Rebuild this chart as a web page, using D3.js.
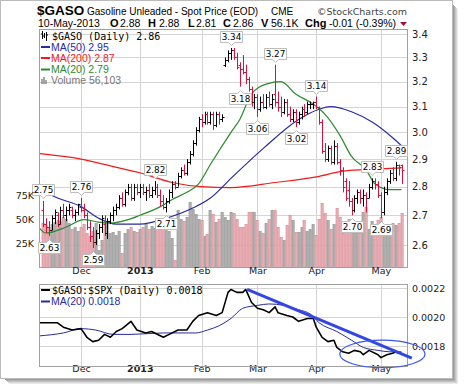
<!DOCTYPE html>
<html>
<head>
<meta charset="utf-8">
<script src="https://cdn.jsdelivr.net/npm/d3@7"></script>
<style>
  body { margin: 0; background: #fff; }
  svg { display: block; }
</style>
</head>
<body>
<svg width="464" height="387"></svg>
<script>
// daily OHLC, Nov 13 2012 .. May 10 2013 (index 0..122)
const opens = [2.72,2.67,2.66,2.65,2.69,2.70,2.67,2.72,2.70,2.72,2.72,2.70,2.71,
  2.73,2.72,2.70,2.66,2.63,2.61,2.64,2.66,2.67,2.64,2.68,2.70,2.72,2.73,2.76,2.74,2.78,2.80,2.76,2.80,
  2.78,2.80,2.78,2.79,2.77,2.79,2.80,2.77,2.75,2.73,2.75,2.78,2.81,2.80,2.84,2.86,2.85,2.89,2.92,2.96,3.01,
  3.05,3.04,3.07,3.04,3.07,3.03,3.07,3.05,3.27,3.29,3.32,3.33,3.30,3.27,3.25,3.24,3.21,3.17,3.12,
  3.14,3.09,3.12,3.10,3.14,3.11,3.15,3.12,3.10,3.08,3.12,3.07,3.05,3.08,3.04,3.07,3.09,3.08,3.11,3.11,
  3.12,3.10,3.04,2.93,2.90,2.94,2.89,2.95,2.89,2.86,2.82,2.79,2.75,2.72,2.76,2.78,2.76,2.77,2.76,2.80,2.82,2.81,
  2.77,2.71,2.78,2.82,2.85,2.83,2.88,2.88]
const highs = [2.75,2.69,2.68,2.70,2.72,2.71,2.73,2.74,2.73,2.74,2.73,2.72,2.74,
  2.76,2.74,2.71,2.68,2.66,2.65,2.67,2.70,2.70,2.69,2.71,2.73,2.74,2.77,2.78,2.79,2.81,2.81,2.81,2.81,
  2.81,2.81,2.80,2.81,2.80,2.82,2.81,2.79,2.77,2.76,2.79,2.82,2.82,2.85,2.87,2.88,2.90,2.93,2.97,3.02,3.06,
  3.07,3.08,3.08,3.08,3.08,3.08,3.08,3.07,3.30,3.33,3.34,3.34,3.32,3.28,3.31,3.27,3.22,3.18,3.15,
  3.15,3.14,3.15,3.15,3.16,3.15,3.27,3.16,3.14,3.13,3.13,3.10,3.09,3.09,3.08,3.10,3.11,3.12,3.12,3.12,
  3.14,3.10,3.05,2.96,2.95,2.95,2.97,2.96,2.90,2.87,2.83,2.82,2.76,2.77,2.79,2.79,2.79,2.78,2.81,2.83,2.83,2.82,
  2.78,2.80,2.83,2.86,2.87,2.89,2.88,2.88]
const lows = [2.66,2.64,2.63,2.65,2.67,2.66,2.67,2.69,2.68,2.70,2.69,2.68,2.70,
  2.71,2.69,2.65,2.61,2.59,2.60,2.62,2.64,2.63,2.62,2.67,2.68,2.70,2.72,2.73,2.73,2.77,2.75,2.75,2.77,
  2.76,2.77,2.75,2.76,2.76,2.77,2.76,2.73,2.72,2.71,2.74,2.76,2.79,2.80,2.83,2.84,2.84,2.88,2.91,2.95,3.00,
  3.02,3.03,3.03,3.03,3.01,3.02,3.03,3.04,3.26,3.28,3.29,3.29,3.25,3.18,3.23,3.19,3.16,3.10,3.09,
  3.06,3.08,3.09,3.09,3.10,3.09,3.10,3.08,3.06,3.07,3.06,3.04,3.04,3.02,3.03,3.05,3.06,3.07,3.09,3.09,
  3.09,3.03,2.92,2.89,2.89,2.88,2.88,2.88,2.84,2.78,2.75,2.73,2.70,2.71,2.74,2.74,2.73,2.71,2.76,2.79,2.79,2.76,
  2.69,2.70,2.77,2.81,2.82,2.82,2.84,2.81]
const closes = [2.67,2.66,2.65,2.69,2.71,2.67,2.72,2.70,2.72,2.73,2.70,2.71,2.74,
  2.72,2.70,2.66,2.63,2.61,2.64,2.66,2.69,2.64,2.68,2.70,2.72,2.73,2.76,2.74,2.78,2.80,2.76,2.80,2.78,
  2.80,2.78,2.79,2.77,2.79,2.80,2.77,2.75,2.73,2.75,2.78,2.81,2.80,2.84,2.86,2.85,2.89,2.92,2.96,3.01,3.05,
  3.04,3.07,3.04,3.07,3.03,3.07,3.05,3.06,3.29,3.32,3.33,3.30,3.26,3.25,3.24,3.21,3.17,3.12,3.14,
  3.09,3.12,3.10,3.14,3.11,3.13,3.12,3.10,3.08,3.12,3.07,3.05,3.08,3.04,3.07,3.09,3.08,3.11,3.11,3.12,
  3.10,3.04,2.93,2.90,2.94,2.89,2.95,2.89,2.86,2.80,2.76,2.75,2.72,2.76,2.78,2.76,2.77,2.76,2.80,2.82,2.81,2.77,
  2.71,2.78,2.82,2.85,2.83,2.88,2.87,2.86]
// volume in thousands
const volumes = [46,44,42,45,47,49,48,52,50,46,40,42,38,
  42,45,35,32,38,46,18,28,47,45,35,36,33,37,15,35,40,42,38,36,
  40,42,45,40,43,41,40,42,40,42,38,30,7,59,50,48,52,68,60,55,50,
  49,32,34,59,55,47,50,57,52,49,57,56,50,42,42,45,57,57,57,
  49,38,35,46,50,59,59,42,31,28,44,54,49,36,36,42,49,38,40,45,
  33,50,67,56,49,40,45,61,52,35,40,50,36,42,40,35,57,62,40,48,42,49,
  52,40,38,42,46,44,46,56]

// moving averages: [day index, value]
const ma50 = [[-1,2.79],[5,2.76],[13,2.73],[19,2.69],[25,2.67],[33,2.67],[42,2.69],[51,2.725],[57,2.76],
  [64,2.83],[75,2.94],[87,3.05],[94,3.09],[98,3.10],[105,3.08],[112,3.04],[119,2.98],[122,2.95]]
const ma200 = [[-1,2.92],[13,2.90],[23,2.875],[33,2.85],[44,2.815],[54,2.80],[64,2.797],[79,2.815],
  [93,2.835],[102,2.856],[110,2.862],[122,2.868]]
const ma20 = [[-1,2.655],[1,2.64],[8,2.66],[14,2.685],[19,2.677],[23,2.673],[29,2.685],[33,2.70],[40,2.73],
  [44,2.755],[49,2.78],[53,2.81],[57,2.88],[64,3.00],[67,3.05],[71,3.15],[76,3.19],[81,3.20],[86,3.15],
  [92,3.11],[96,3.07],[101,2.99],[105,2.91],[110,2.86],[113,2.81],[118,2.79],[122,2.79]]

// $GASO:$SPX ratio and its MA(20)
const ratio = [[-1,0.00196],[2,0.00196],[5,0.00196],[7,0.00193],[10,0.00191],[13,0.00192],[15,0.00186],
  [17,0.00183],[19,0.00184],[21,0.00188],[23,0.00186],[25,0.00190],[27,0.00192],[30,0.00197],[32,0.00191],
  [35,0.00189],[37,0.00190],[41,0.00186],[43,0.00188],[46,0.00191],[49,0.00191],[51,0.00197],[53,0.00201],
  [56,0.00203],[59,0.00201],[61,0.00203],[63,0.00217],[64,0.00219],[66,0.00217],[68,0.00217],[69,0.00219],
  [71,0.00210],[73,0.00206],[75,0.00205],[77,0.00203],[79,0.00207],[80,0.00203],[83,0.00201],[85,0.00200],
  [87,0.00197],[90,0.00199],[92,0.00199],[93,0.00193],[95,0.00186],[97,0.00183],[99,0.00184],[100,0.00179],
  [102,0.00176],[104,0.00175],[106,0.00177],[108,0.00176],[109,0.00174],[111,0.00177],[114,0.00174],
  [115,0.00172],[117,0.00174],[119,0.00175],[120,0.00176],[121,0.00175],[122,0.00175]]
const ratioMa = [[-1,0.00187],[7,0.00189],[13,0.00192],[18,0.00191],[24,0.00188],[30,0.00188],[41,0.00189],
  [52,0.00189],[56,0.00191],[60,0.00194],[64,0.00199],[68,0.00206],[73,0.00208],[77,0.00209],[82,0.00208],
  [87,0.00205],[91,0.00202],[94,0.00196],[100,0.00190],[105,0.00184],[109,0.00179],[114,0.00177],
  [118,0.00176],[122,0.00176]]
// hand-drawn annotations on the ratio panel
const trendLine = [[69.5,0.00219],[125.5,0.001717]]
const ellipseBox = [[101,0.00184],[130,0.00165]]

const priceTicks = [2.6,2.7,2.8,2.9,3.0,3.1,3.2,3.3,3.4]
const volTicks = [25,50,75]
const ratioTicks = [0.0018,0.0020,0.0022]
const monthLabels = ["Dec","2013","Feb","Mar","Apr","May"]
const monthIdx = [13,33,54,73,93,115]
const highMarks = [0,13,38,64,79,93,112,120]
const lowMarks = [2,17,42,67,73,86,105,115]

const SANS = '"Liberation Sans", Arial, sans-serif'
const DJV = '"DejaVu Sans", sans-serif'
const MONO = '"DejaVu Sans Mono", monospace'

const svg = d3.select('svg').style('font-family', DJV)
const L = 39, R = 407, T = 29, B = 267
const T2 = 284, B2 = 366

const x = d3.scaleLinear().domain([0, 122]).range([42.8, 401.5])
const y = d3.scaleLog().domain([2.6, 3.4]).range([245, 34])
const yv = d3.scaleLinear().domain([0, 75]).range([B, 195])
const yr = d3.scaleLinear().domain([0.0018, 0.0022]).range([346, 288])
const px = i => Math.round(x(i)) + 0.5

const RED = '#d8103c'
const isDown = i => i === 0 ? closes[0] < opens[0] : closes[i] < closes[i - 1]

// outer frame + shadow
svg.append('rect').attr('x', 0.5).attr('y', 0.5).attr('width', 452).attr('height', 378)
  .attr('fill', '#fff').attr('stroke', '#bbb')
for (let k = 1; k <= 6; k++) {
  const c = d3.interpolateRgb('#888', '#fff')(k / 6)
  svg.append('line').attr('x1', 452.5 + k).attr('x2', 452.5 + k).attr('y1', 4 + k).attr('y2', 379 + k).attr('stroke', c)
  svg.append('line').attr('x1', 4 + k).attr('x2', 452 + k).attr('y1', 378.5 + k).attr('y2', 378.5 + k).attr('stroke', c)
}

svg.append('clipPath').attr('id', 'c1').append('rect').attr('x', L).attr('y', T).attr('width', R - L).attr('height', B - T)
svg.append('clipPath').attr('id', 'c2').append('rect').attr('x', L).attr('y', T2).attr('width', R - L).attr('height', B2 - T2)

// ---------- main panel ----------
const main = svg.append('g')
const grid = main.append('g').attr('stroke', '#d4d4d4').attr('shape-rendering', 'crispEdges')
grid.selectAll('line.h').data(priceTicks).join('line').attr('class', 'h')
  .attr('x1', L).attr('x2', R).attr('y1', d => Math.round(y(d)) + 0.5).attr('y2', d => Math.round(y(d)) + 0.5)
grid.selectAll('line.v').data(monthIdx).join('line').attr('class', 'v')
  .attr('x1', d => px(d)).attr('x2', d => px(d)).attr('y1', T).attr('y2', B)

const plot = main.append('g').attr('clip-path', 'url(#c1)')

plot.append('g').selectAll('rect').data(volumes).join('rect')
  .attr('x', (d, i) => Math.round(x(i)) - 1)
  .attr('y', d => Math.round(yv(d)) + 0.5)
  .attr('width', 2.2)
  .attr('height', d => B - Math.round(yv(d)))
  .attr('fill', (d, i) => isDown(i) ? '#e9b3b8' : '#b3b3b3')
  .attr('stroke', (d, i) => isDown(i) ? '#d98a92' : '#959595')
  .attr('stroke-width', 0.7)

const maLine = d3.line().x(d => x(d[0])).y(d => y(d[1])).curve(d3.curveMonotoneX)
plot.append('path').datum(ma200).attr('d', maLine).attr('fill', 'none').attr('stroke', '#f01c1c').attr('stroke-width', 1.2)
plot.append('path').datum(ma50).attr('d', maLine).attr('fill', 'none').attr('stroke', '#2a2aa0').attr('stroke-width', 1.2)
plot.append('path').datum(ma20).attr('d', maLine).attr('fill', 'none').attr('stroke', '#2d8a2d').attr('stroke-width', 1.2)

plot.append('g').selectAll('path').data(closes).join('path')
  .attr('d', (c, i) => {
    const xi = px(i)
    return `M${xi},${y(highs[i])}V${y(lows[i])}M${xi - 2},${Math.round(y(opens[i])) + 0.5}H${xi}M${xi},${Math.round(y(c)) + 0.5}H${xi + 2}`
  })
  .attr('fill', 'none').attr('stroke-width', 1)
  .attr('stroke', (c, i) => isDown(i) ? RED : '#000')

main.append('rect').attr('x', L + 0.5).attr('y', T + 0.5).attr('width', R - L).attr('height', B - T)
  .attr('fill', 'none').attr('stroke', '#a0a0a0')

// high / low value callouts
function callout(i, v, up) {
  const cx = px(i) - 0.5, w = 11, h = 11
  const tip = up ? Math.round(y(v)) - 3 : Math.round(y(v)) + 3
  const top = up ? tip - 3 - h : tip + 3
  const d = up
    ? `M${cx - w},${top}H${cx + w}V${top + h}H${cx + 3}L${cx},${tip}L${cx - 3},${top + h}H${cx - w}Z`
    : `M${cx - w},${top}H${cx - 3}L${cx},${tip}L${cx + 3},${top}H${cx + w}V${top + h}H${cx - w}Z`
  const g = main.append('g')
  g.append('path').attr('d', d).attr('transform', 'translate(0.5,0.5)')
    .attr('fill', '#fff').attr('stroke', '#bdbdbd')
  g.append('text').attr('x', cx + 0.5).attr('y', top + 9).attr('text-anchor', 'middle')
    .style('font-family', DJV).style('font-size', '8.8px').attr('fill', '#000').text(v.toFixed(2))
}
highMarks.forEach(i => callout(i, highs[i], true))
lowMarks.forEach(i => callout(i, lows[i], false))

// axes
const yAxis = main.append('g').attr('transform', `translate(${R + 2},0)`)
  .call(d3.axisRight(y).tickValues(priceTicks).tickSize(0).tickFormat(d3.format('.1f')))
yAxis.select('.domain').remove()
yAxis.selectAll('text').style('font-size', '10px').attr('fill', '#222').style('font-family', DJV)

const vAxis = main.append('g').attr('transform', `translate(${L - 2},0)`)
  .call(d3.axisLeft(yv).tickValues(volTicks).tickSize(0).tickFormat(d => d + 'K'))
vAxis.select('.domain').remove()
vAxis.selectAll('text').style('font-size', '9.5px').attr('fill', '#222').style('font-family', DJV)

function monthAxis(yPos) {
  const g = svg.append('g').attr('transform', `translate(0,${yPos})`)
    .call(d3.axisBottom(x).tickValues(monthIdx).tickSize(0).tickFormat((d, i) => monthLabels[i]))
  g.select('.domain').remove()
  g.selectAll('text').style('font-size', '9.5px').attr('fill', '#222').attr('dy', '0.35em')
    .style('font-family', DJV)
    .style('font-weight', (d, i) => monthLabels[i] === '2013' ? 'bold' : 'normal')
  return g
}
monthAxis(268)
monthAxis(366)

// legend in main panel
const lg = main.append('g')
lg.append('path').attr('d', 'M42.5,31V39M41,34H42.5M46.5,32V41M46.5,35H48M44.5,33V38M43,36H44.5')
  .attr('stroke', '#000').attr('fill', 'none')
lg.append('text').attr('x', 52).attr('y', 39.5).style('font-size', '10px')
  .style('font-family', MONO).text('$GASO (Daily) 2.86')
const maLeg = [['MA(50) 2.95', '#2a2aa0', 47], ['MA(200) 2.87', '#f01c1c', 58], ['MA(20) 2.79', '#2d8a2d', 69.5]]
maLeg.forEach(([t, c, yy]) => {
  lg.append('line').attr('x1', 41).attr('x2', 50).attr('y1', yy).attr('y2', yy).attr('stroke', c).attr('stroke-width', 2)
  lg.append('text').attr('x', 51).attr('y', yy + 3.5).style('font-size', '10.5px')
    .style('font-family', SANS).attr('fill', c).text(t)
})
lg.append('path').attr('d', 'M42,84V79M44,84V77M46,84V80').attr('stroke', '#888').attr('stroke-width', 1.5)
lg.append('text').attr('x', 51).attr('y', 84).style('font-size', '10.5px')
  .style('font-family', SANS).attr('fill', '#777').text('Volume 56,103')

// ---------- ratio panel ----------
const low = svg.append('g')
const grid2 = low.append('g').attr('stroke', '#d4d4d4').attr('shape-rendering', 'crispEdges')
grid2.selectAll('line.h').data(ratioTicks).join('line').attr('class', 'h')
  .attr('x1', L).attr('x2', R).attr('y1', d => Math.round(yr(d)) + 0.5).attr('y2', d => Math.round(yr(d)) + 0.5)
grid2.selectAll('line.v').data(monthIdx).join('line').attr('class', 'v')
  .attr('x1', d => px(d)).attr('x2', d => px(d)).attr('y1', T2).attr('y2', B2)

const plot2 = low.append('g').attr('clip-path', 'url(#c2)')
const rLine = d3.line().x(d => x(d[0])).y(d => yr(d[1])).curve(d3.curveMonotoneX)
plot2.append('path').datum(ratioMa).attr('d', rLine).attr('fill', 'none').attr('stroke', '#2a2aa0').attr('stroke-width', 1)
plot2.append('path').datum(ratio).attr('d', d3.line().x(d => x(d[0])).y(d => yr(d[1])))
  .attr('fill', 'none').attr('stroke', '#000').attr('stroke-width', 1.6).attr('stroke-linejoin', 'round')

low.append('rect').attr('x', L + 0.5).attr('y', T2 + 0.5).attr('width', R - L).attr('height', B2 - T2)
  .attr('fill', 'none').attr('stroke', '#a0a0a0')

const rAxis = low.append('g').attr('transform', `translate(${R + 2},0)`)
  .call(d3.axisRight(yr).tickValues(ratioTicks).tickSize(0).tickFormat(d3.format('.4f')))
rAxis.select('.domain').remove()
rAxis.selectAll('text').style('font-size', '9.5px').attr('fill', '#222').style('font-family', DJV)

// annotations
low.append('line')
  .attr('x1', x(trendLine[0][0])).attr('y1', yr(trendLine[0][1]))
  .attr('x2', x(trendLine[1][0])).attr('y2', yr(trendLine[1][1]))
  .attr('stroke', '#3246e6').attr('stroke-width', 3)
low.append('ellipse')
  .attr('cx', (x(ellipseBox[0][0]) + x(ellipseBox[1][0])) / 2)
  .attr('cy', (yr(ellipseBox[0][1]) + yr(ellipseBox[1][1])) / 2)
  .attr('rx', (x(ellipseBox[1][0]) - x(ellipseBox[0][0])) / 2)
  .attr('ry', (yr(ellipseBox[1][1]) - yr(ellipseBox[0][1])) / 2)
  .attr('fill', 'none').attr('stroke', '#3a55ee').attr('stroke-width', 1.2)

const lg2 = low.append('g')
lg2.append('line').attr('x1', 41).attr('x2', 50).attr('y1', 290).attr('y2', 290).attr('stroke', '#000').attr('stroke-width', 2)
lg2.append('text').attr('x', 52).attr('y', 293.5).style('font-size', '10px')
  .style('font-family', MONO).text('$GASO:$SPX (Daily) 0.0018')
lg2.append('line').attr('x1', 41).attr('x2', 50).attr('y1', 301.5).attr('y2', 301.5).attr('stroke', '#2a2aa0').attr('stroke-width', 2)
lg2.append('text').attr('x', 51).attr('y', 305).style('font-size', '10.5px').attr('fill', '#2a2aa0')
  .style('font-family', SANS).text('MA(20) 0.0018')

// ---------- header ----------
const hd = svg.append('g')
hd.append('text').attr('x', 37).attr('y', 15).style('font-size', '13.5px').style('font-weight', 'bold')
  .style('font-family', SANS).text('$GASO')
hd.append('text').attr('x', 87).attr('y', 14.5).style('font-size', '10px').style('font-family', SANS)
  .text('Gasoline Unleaded - Spot Price (EOD)')
hd.append('text').attr('x', 271).attr('y', 14.5).style('font-size', '10px').style('font-family', SANS).text('CME')
hd.append('text').attr('x', 317).attr('y', 14.5).style('font-size', '9.5px').attr('fill', '#444')
  .attr('textLength', 90).attr('lengthAdjust', 'spacingAndGlyphs')
  .style('font-family', DJV).text('\u00a9StockCharts.com')

const row2 = [
  ['10-May-2013', 38, false], ['O', 110, true], ['2.88', 120, false], ['H', 148, true], ['2.88', 159, false],
  ['L', 188, true], ['2.81', 196, false], ['C', 223, true], ['2.86', 233, false], ['V', 261, true],
  ['56.1K', 271, false], ['Chg', 305, true], ['-0.01 (-0.39%)', 329, false]
]
row2.forEach(([t, xx, b]) => {
  hd.append('text').attr('x', xx).attr('y', 27).style('font-size', b ? '11px' : '10.5px')
    .style('font-family', SANS).style('font-weight', b ? 'bold' : 'normal').text(t)
})
hd.append('path').attr('d', 'M400,22H407L403.5,26Z').attr('fill', '#a01030')
</script>
</body>
</html>
